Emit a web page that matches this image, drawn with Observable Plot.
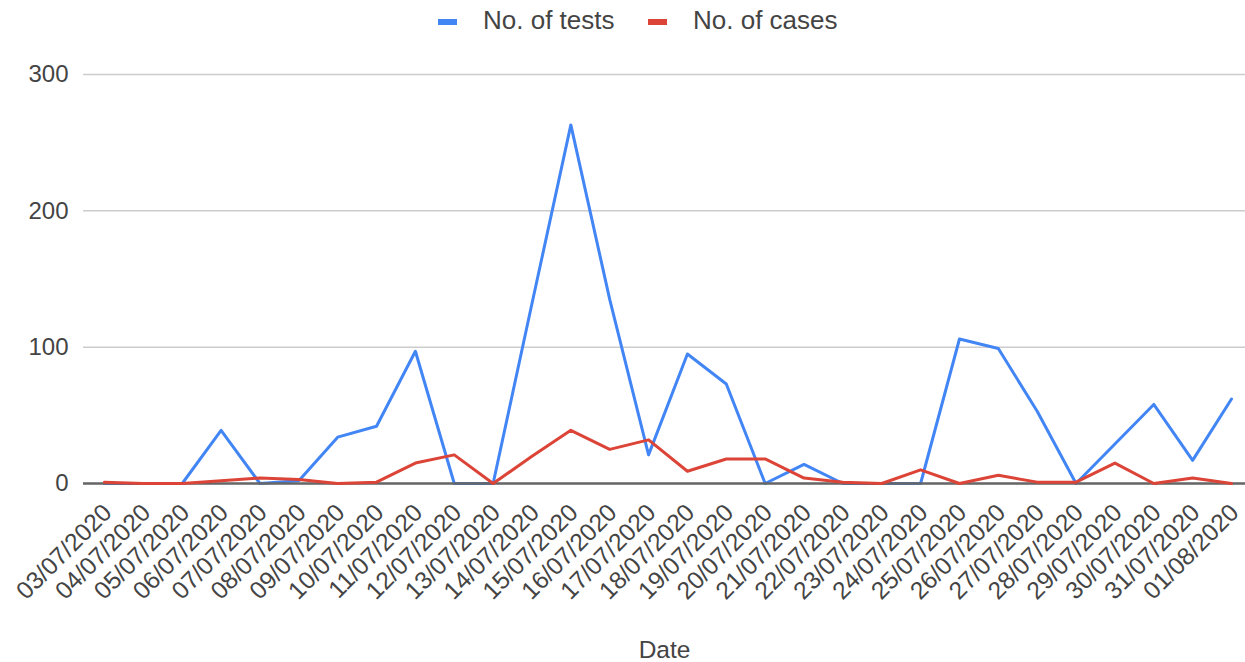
<!DOCTYPE html>
<html>
<head>
<meta charset="utf-8">
<script src="https://cdn.jsdelivr.net/npm/d3@7"></script>
<script src="https://cdn.jsdelivr.net/npm/@observablehq/plot@0.6"></script>
<style>
  html, body { margin: 0; padding: 0; background: #fff; }
  body { width: 1245px; height: 662px; overflow: hidden; font-family: Arial, "Liberation Sans", sans-serif; }
  #legend { position: relative; height: 40px; width: 1245px; }
  .item { position: absolute; top: 0; height: 40px; display: flex; align-items: center; font-size: 26px; color: #444; }
  .sw { width: 19px; height: 6px; margin-right: 26px; margin-top: 3px; }
</style>
</head>
<body>
<div id="legend"></div>
<div id="chart"></div>
<script>
const dates = ["03/07/2020","04/07/2020","05/07/2020","06/07/2020","07/07/2020","08/07/2020","09/07/2020","10/07/2020","11/07/2020","12/07/2020","13/07/2020","14/07/2020","15/07/2020","16/07/2020","17/07/2020","18/07/2020","19/07/2020","20/07/2020","21/07/2020","22/07/2020","23/07/2020","24/07/2020","25/07/2020","26/07/2020","27/07/2020","28/07/2020","29/07/2020","30/07/2020","31/07/2020","01/08/2020"];
const tests = [0,0,0,39,0,2,34,42,97,0,0,132,263,135,21,95,73,0,14,0,0,0,106,99,53,0,29,58,17,62];
const cases = [1,0,0,2,4,3,0,1,15,21,0,20,39,25,32,9,18,18,4,1,0,10,0,6,1,1,15,0,4,0];
const seriesNames = ["No. of tests", "No. of cases"];
const seriesColors = ["#4285F4", "#DB4437"];
const yTicks = [0, 100, 200, 300];

const testsData = dates.map((d, i) => ({date: d, value: tests[i]}));
const casesData = dates.map((d, i) => ({date: d, value: cases[i]}));

// legend
const legend = document.getElementById("legend");
const legendLeft = [438, 648];
seriesNames.forEach((name, i) => {
  const it = document.createElement("div");
  it.className = "item";
  it.style.left = legendLeft[i] + "px";
  it.innerHTML = `<span class="sw" style="background:${seriesColors[i]}"></span><span>${name}</span>`;
  legend.appendChild(it);
});

const chart = Plot.plot({
  width: 1245,
  height: 622,
  marginLeft: 83,
  marginRight: 0,
  marginTop: 34,
  marginBottom: 179,
  style: {fontFamily: 'Arial, "Liberation Sans", sans-serif', background: "#fff", color: "#444"},
  x: {type: "point", domain: dates, range: [104, 1231], padding: 0, round: false},
  y: {domain: [0, 300]},
  marks: [
    Plot.gridY(yTicks, {stroke: "#cccccc", strokeOpacity: 1, strokeWidth: 1.5}),
    Plot.axisY(yTicks, {tickSize: 0, tickPadding: 15, fontSize: 24, label: null, fill: "#444"}),
    Plot.axisX({tickSize: 0, tickRotate: -45, tickPadding: 25, dx: 3, fontSize: 24.5, fill: "#444",
      label: "Date", labelAnchor: "center", labelArrow: "none", labelOffset: 174}),
    Plot.line(testsData, {x: "date", y: "value", stroke: seriesColors[0], strokeWidth: 3}),
    Plot.ruleY([0], {stroke: "#666", strokeWidth: 2.5}),
    Plot.line(casesData, {x: "date", y: "value", stroke: seriesColors[1], strokeWidth: 3})
  ]
});
document.getElementById("chart").appendChild(chart);
</script>
</body>
</html>
